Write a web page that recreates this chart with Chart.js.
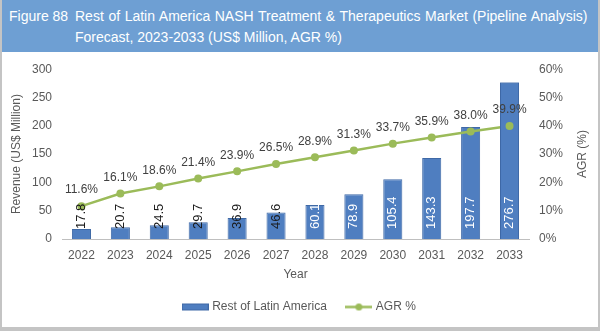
<!DOCTYPE html>
<html lang="en">
<head>
  <meta charset="UTF-8">
  <title>Rest of Latin America NASH Market</title>
  <script src="https://cdn.jsdelivr.net/npm/chart.js"></script>
  <style>
    body {
      margin: 0;
      font-family: "Liberation Sans", Arial, sans-serif;
    }

    #frame {
      position: relative;
      width: 600px;
      height: 331px;
      background: #fff;
      overflow: hidden;
    }

    #edge {
      position: absolute;
      left: 0;
      top: 0;
      width: 600px;
      height: 331px;
      box-sizing: border-box;
      border: 2px solid #c4c4c4;
      border-bottom-width: 4px;
      border-top: none;
      pointer-events: none;
    }

    #banner {
      position: absolute;
      left: 0;
      top: 0;
      width: 600px;
      height: 52px;
      background-color: #6e9fd3;
      color: #fff;
      font-size: 14px;
    }

    #banner .fig {
      position: absolute;
      left: 9px;
      top: 8px;
    }

    #banner .line {
      position: absolute;
      left: 75px;
      white-space: nowrap;
    }

    canvas {
      position: absolute;
      left: 0;
      top: 52px;
    }
  </style>
</head>
<body>
  <div id="frame">
    <div id="banner">
      <span class="fig">Figure 88</span>
      <span class="line" style="top: 8px; word-spacing: 0.7px;">Rest of Latin America NASH Treatment &amp; Therapeutics Market (Pipeline Analysis)</span>
      <span class="line" style="top: 29px;">Forecast, 2023-2033 (US$ Million, AGR %)</span>
    </div>
    <canvas id="nashChart" width="600" height="279"></canvas>
    <div id="edge"></div>
  </div>

  <script>
    const years = ['2022', '2023', '2024', '2025', '2026', '2027', '2028', '2029', '2030', '2031', '2032', '2033'];
    const revenue = [17.8, 20.7, 24.5, 29.7, 36.9, 46.6, 60.1, 78.9, 105.4, 143.3, 197.7, 276.7];
    const agr = [11.6, 16.1, 18.6, 21.4, 23.9, 26.5, 28.9, 31.3, 33.7, 35.9, 38.0, 39.9];
    const revenueTicks = [0, 50, 100, 150, 200, 250, 300];
    const agrTicks = [0, 10, 20, 30, 40, 50, 60];

    const barBlue = '#4f7ec0';
    const lineGreen = '#9bbb59';
    const textGrey = '#595959';

    // legend swatches, excel style
    function makeSwatch(kind) {
      const c = document.createElement('canvas');
      c.width = 27;
      c.height = 9;
      const g = c.getContext('2d');
      if (kind === 'bar') {
        g.fillStyle = barBlue;
        g.fillRect(0, 1, 27, 7);
        g.strokeStyle = '#3f69a6';
        g.strokeRect(0.5, 1.5, 26, 6);
      } else {
        g.strokeStyle = lineGreen;
        g.lineWidth = 2.5;
        g.beginPath();
        g.moveTo(0, 4.5);
        g.lineTo(27, 4.5);
        g.stroke();
        g.fillStyle = lineGreen;
        g.beginPath();
        g.arc(13.5, 4.5, 3.5, 0, Math.PI * 2);
        g.fill();
      }
      return c;
    }
    const swatches = [makeSwatch('bar'), makeSwatch('line')];

    const labelPlugin = {
      id: 'valueLabels',
      afterDatasetsDraw(chart) {
        const ctx = chart.ctx;
        const bars = chart.getDatasetMeta(0).data;
        const pts = chart.getDatasetMeta(1).data;
        const last = bars.length - 1;

        // in the source the last bar hides the end of the line, but not its marker
        bars[last].draw(ctx);
        pts[last].draw(ctx, chart.chartArea);

        ctx.save();

        // bar values, rotated, sitting at the base of each bar
        ctx.font = '13px "Liberation Sans", Arial, sans-serif';
        ctx.textAlign = 'left';
        ctx.textBaseline = 'middle';
        bars.forEach((bar, i) => {
          ctx.save();
          ctx.translate(bar.x, bar.base - 10);
          ctx.rotate(-Math.PI / 2);
          ctx.fillStyle = i < 6 ? '#1a1a1a' : '#ffffff';
          ctx.fillText(revenue[i].toFixed(1), 0, 0);
          ctx.restore();
        });

        // AGR values above points
        ctx.font = '12px "Liberation Sans", Arial, sans-serif';
        ctx.textAlign = 'center';
        ctx.fillStyle = '#404040';
        pts.forEach((p, i) => {
          ctx.fillText(agr[i].toFixed(1) + '%', p.x, p.y - 16);
        });

        // right axis title reads bottom to top
        const area = chart.chartArea;
        ctx.save();
        ctx.translate(583, (area.top + area.bottom) / 2);
        ctx.rotate(-Math.PI / 2);
        ctx.fillStyle = textGrey;
        ctx.font = '12px "Liberation Sans", Arial, sans-serif';
        ctx.fillText('AGR (%)', 0, 0);
        ctx.restore();

        ctx.restore();
      }
    };

    const ctx = document.getElementById('nashChart').getContext('2d');
    Chart.defaults.font.family = '"Liberation Sans", Arial, sans-serif';
    Chart.defaults.font.size = 12;
    Chart.defaults.color = textGrey;

    new Chart(ctx, {
      type: 'bar',
      data: {
        labels: years,
        datasets: [
          {
            label: 'Rest of Latin America',
            data: revenue,
            backgroundColor: barBlue,
            borderColor: '#3f69a6',
            borderWidth: 1,
            categoryPercentage: 1,
            barPercentage: 0.49,
            yAxisID: 'y',
            order: 2
          },
          {
            type: 'line',
            label: 'AGR %',
            data: agr,
            borderColor: lineGreen,
            backgroundColor: lineGreen,
            borderWidth: 2.5,
            pointRadius: 4,
            pointBackgroundColor: lineGreen,
            pointBorderWidth: 0,
            tension: 0,
            yAxisID: 'y1',
            order: 1
          }
        ]
      },
      options: {
        responsive: false,
        animation: false,
        layout: {
          padding: { top: 16, left: 0, right: 0, bottom: 8 }
        },
        plugins: {
          tooltip: { enabled: false },
          legend: {
            position: 'bottom',
            labels: {
              usePointStyle: true,
              pointStyleWidth: 22,
              boxHeight: 9,
              padding: 21,
              color: textGrey,
              sort: (a, b) => a.datasetIndex - b.datasetIndex,
              generateLabels(chart) {
                const items = Chart.defaults.plugins.legend.labels.generateLabels(chart);
                items.forEach(it => { it.pointStyle = swatches[it.datasetIndex]; });
                return items;
              }
            }
          }
        },
        scales: {
          x: {
            grid: { display: false, drawTicks: false },
            border: { display: true, color: '#bfbfbf' },
            ticks: { padding: 9, maxRotation: 0 },
            title: { display: true, text: 'Year', padding: { top: 0, bottom: -2 } },
            afterFit(scale) { scale.height = 41; }
          },
          y: {
            position: 'left',
            min: 0,
            max: 300,
            grid: { display: false, drawTicks: false },
            border: { display: false },
            afterBuildTicks(scale) { scale.ticks = revenueTicks.map(v => ({ value: v })); },
            ticks: { padding: 10 },
            title: { display: true, text: 'Revenue (US$ Million)', padding: { top: 9, bottom: 0 } },
            afterFit(scale) { scale.width = 62; }
          },
          y1: {
            position: 'right',
            min: 0,
            max: 60,
            grid: { display: false, drawTicks: false },
            border: { display: false },
            afterBuildTicks(scale) { scale.ticks = agrTicks.map(v => ({ value: v })); },
            ticks: { padding: 10, callback: v => v + '%' },
            afterFit(scale) { scale.width = 71; }
          }
        }
      },
      plugins: [labelPlugin]
    });
  </script>
</body>
</html>
